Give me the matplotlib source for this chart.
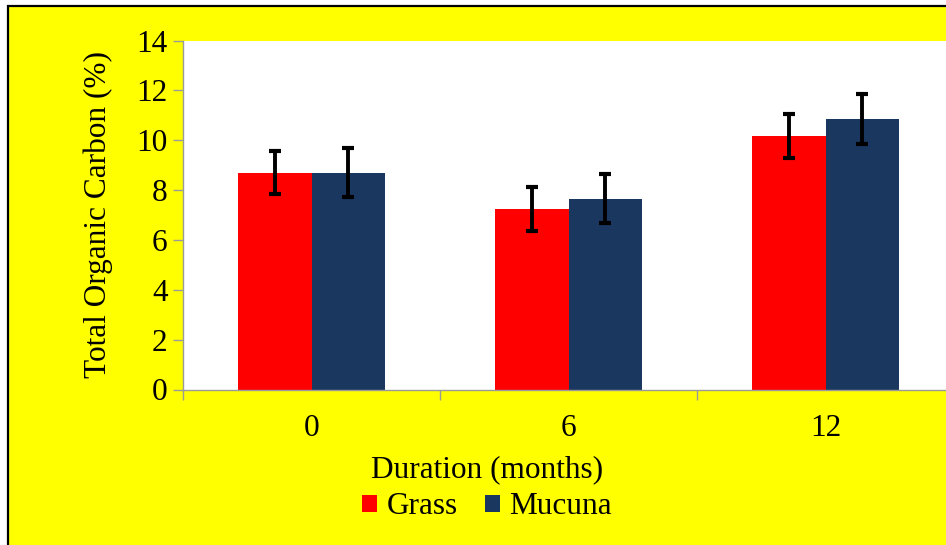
import matplotlib.pyplot as plt
from matplotlib.patches import Rectangle, Patch
import numpy as np

durations = ['0', '6', '12']
grass = [8.70, 7.24, 10.16]
grass_err = [0.87, 0.88, 0.89]
mucuna = [8.70, 7.65, 10.85]
mucuna_err = [0.98, 0.99, 0.99]

plt.rcParams['font.family'] = ['Liberation Serif', 'DejaVu Serif']
FS = 22.5

fig = plt.figure(figsize=(9.46, 5.45), dpi=100, facecolor='white')

# yellow chart area with black border (cut off on right and bottom)
bg = Rectangle((7.5 / 946, -0.05), 1.1, 1 - 5.5 / 545 + 0.05, transform=fig.transFigure,
               facecolor='#ffff00', edgecolor='black', linewidth=1.6, zorder=-5)
fig.patches.append(bg)

ax = fig.add_axes([183 / 946, 1 - 389.5 / 545, 771 / 946, 349 / 545])
ax.set_facecolor('white')

x = np.arange(len(durations))
w = 0.287
err_kw = dict(ecolor='black', elinewidth=2.8, capsize=4.5, capthick=3.0)
ax.bar(x - w / 2, grass, w, yerr=grass_err, color='#ff0000', label='Grass',
       error_kw=err_kw, zorder=2)
ax.bar(x + w / 2, mucuna, w, yerr=mucuna_err, color='#1a3760', label='Mucuna',
       error_kw=err_kw, zorder=2)

ax.set_xlim(-0.5, 2.5)
ax.set_ylim(0, 14)
ax.set_yticks(range(0, 15, 2))
ax.set_xticks(x)
ax.set_xticklabels(durations)
ax.set_xticks([-0.5, 0.5, 1.5, 2.5], minor=True)

for s in ['top', 'right']:
    ax.spines[s].set_visible(False)
for s in ['left', 'bottom']:
    ax.spines[s].set_color('#9a9a9a')
    ax.spines[s].set_linewidth(1.0)

ax.tick_params(axis='y', direction='out', length=7, width=1, color='#9a9a9a',
               labelsize=FS, pad=4)
ax.tick_params(axis='x', which='major', length=0, labelsize=FS, pad=18)
ax.tick_params(axis='x', which='minor', direction='out', length=7, width=1, color='#9a9a9a')

ax.set_ylabel('Total Organic Carbon (%)', fontsize=FS)
ax.yaxis.set_label_coords(-(183 - 98) / 771, 0.5)
ax.yaxis.label.set_va('center')
ax.set_xlabel('Duration (months)', fontsize=FS)
ax.xaxis.set_label_coords((487 - 183) / 771, -(470 - 389.5) / 349)
ax.xaxis.label.set_va('center')

handles = [Patch(facecolor='#ff0000'), Patch(facecolor='#1a3760')]
fig.legend(handles, ['Grass', 'Mucuna'], loc='center', bbox_to_anchor=(487 / 946, 1 - 507 / 545),
           ncol=2, frameon=False, fontsize=FS, handlelength=0.5, handleheight=0.5,
           handletextpad=0.3, columnspacing=0.85, borderpad=0)

fig.savefig('out.png', dpi=100, facecolor=fig.get_facecolor())
